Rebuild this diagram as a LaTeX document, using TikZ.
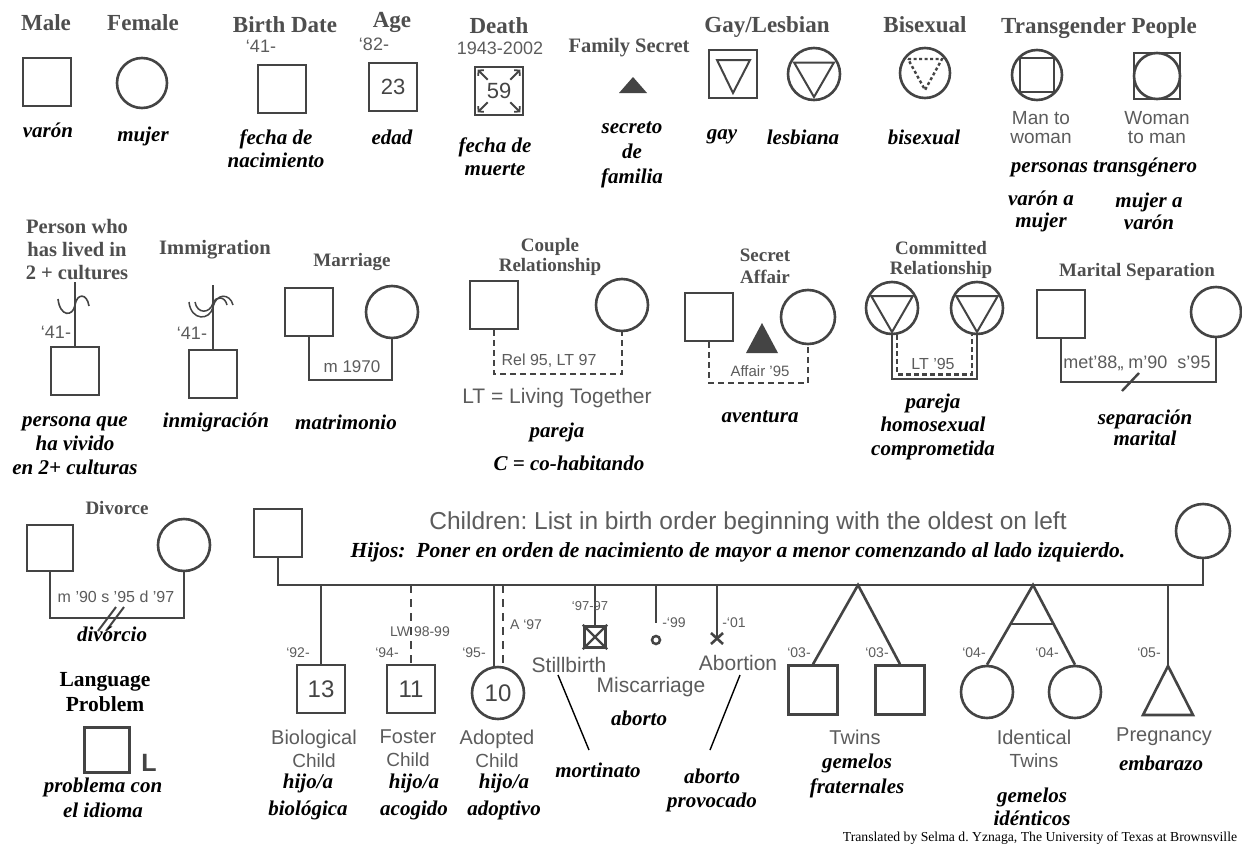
\documentclass[tikz,border=0pt]{standalone}
\usepackage{fontspec}
\setmainfont{Liberation Serif}
\newfontfamily\sansf{Liberation Sans}
\usetikzlibrary{calc,arrows.meta}
\definecolor{shp}{HTML}{444444}
\definecolor{hdrc}{HTML}{4E4E4E}
\definecolor{labc}{HTML}{5C5C5C}
\newcommand{\bignum}{\sansf\fontsize{24}{24}\selectfont}
\frenchspacing
\begin{document}
\begin{tikzpicture}[x=1pt,y=-1pt,
 hdr/.style={font=\fontsize{23}{25}\selectfont\bfseries, text=hdrc, align=center, inner sep=0pt},
 hdrm/.style={font=\fontsize{20.5}{23}\selectfont\bfseries, text=hdrc, align=center, inner sep=0pt},
 hdrs/.style={font=\fontsize{19}{#1}\selectfont\bfseries, text=hdrc, align=center, inner sep=0pt},
 hdrs/.default=20,
 es/.style={font=\fontsize{21}{#1}\selectfont\bfseries\itshape, text=black, align=center, inner sep=0pt},
 es/.default=23,
 lab/.style={font=\sansf\fontsize{19}{#1}\selectfont, text=labc, align=center, inner sep=0pt},
 lab/.default=19,
 sm/.style={font=\sansf\fontsize{#1}{#1}\selectfont, text=labc, inner sep=0pt},
 sm/.default=14,
 sq/.style={draw=shp, line width=2.6pt, minimum size=48pt, inner sep=0pt, text=shp},
 ci/.style={circle, draw=shp, line width=2.6pt, minimum size=52pt, inner sep=0pt, text=shp},
 ln/.style={draw=shp, line width=2.6pt},
 dl/.style={draw=shp, line width=2.6pt, dash pattern=on 6pt off 4pt},
 ptr/.style={draw=black, line width=1.4pt},
 darr/.style={draw=shp, line width=1.8pt, -{Straight Barb[length=3.5pt, width=8pt]}},
]
\fill[white] (0,0) rectangle (1242,846);
\useasboundingbox (0,0) rectangle (1242,846);

% ---------------- Row 1 ----------------
\node[hdr] (hMale) at (46,23) {Male};
\node[sq] (male) at (47,82) {};
\node[es] (eMale) at (48,130) {varón};

\node[hdr] (hFem) at (143,23) {Female};
\node[ci, minimum size=50pt] (fem) at (142,83) {};
\node[es] (eFem) at (143,136) {mujer};

\node[hdr] (hBirth) at (285,25) {Birth Date};
\node[sm=18] (tBirth) at (261,46) {‘41-};
\node[sq] (birth) at (282,89) {};
\node[es] (eBirth) at (276,148.5) {fecha de\\nacimiento};

\node[hdr] (hAge) at (392,22) {Age};
\node[sm=18] (tAge) at (374,44) {‘82-};
\node[sq, minimum size=48pt] (age) at (393,87) {\sansf\fontsize{22}{22}\selectfont 23};
\node[es] (eAge) at (392,137) {edad};

\node[hdr] (hDeath) at (499,26) {Death};
\node[sm=18] (tDeath) at (500,48) {1943-2002};
\node[sq] (death) at (499,91) {\sansf\fontsize{22}{22}\selectfont 59};
\draw[darr] ($(death.north west)+(14,14)$) -- ($(death.north west)+(4,4)$);
\draw[darr] ($(death.north east)+(-14,14)$) -- ($(death.north east)+(-4,4)$);
\draw[darr] ($(death.south west)+(14,-14)$) -- ($(death.south west)+(4,-4)$);
\draw[darr] ($(death.south east)+(-14,-14)$) -- ($(death.south east)+(-4,-4)$);
\node[es] (eDeath) at (495,156.5) {fecha de\\muerte};

\node[hdrm] (hSecret) at (629,48) {Family Secret};
\coordinate (fs) at (633,77);
\fill[shp] (fs) -- ++(14,16) -- ++(-28,0) -- cycle;
\node[es=25] (eSecret) at (632,155) {secreto\\de\\familia};

\node[hdr] (hGay) at (767,27) {Gay/Lesbian};
\node[sq] (gay) at (733,74) {};
\draw[shp, line width=2pt, line join=miter] ($(gay)+(-16,-14)$) -- ($(gay)+(17,-14)$) -- ($(gay)+(0,19)$) -- cycle;
\node[ci] (lesb) at (814,74) {};
\draw[shp, line width=2pt, line join=miter] ($(lesb)+(210:23)$) -- ($(lesb)+(330:23)$) -- ($(lesb)+(90:23)$) -- cycle;
\node[es] (eGay) at (722,137) {gay};
\node[es] (eLesb) at (803,137) {lesbiana};

\node[hdr] (hBi) at (925,25) {Bisexual};
\node[ci, minimum size=50pt] (bi) at (925,73) {};
\draw[shp, line width=2.4pt, dash pattern=on 3pt off 2.5pt] ($(bi)+(-17,-14)$) -- ($(bi)+(17,-14)$) -- ($(bi)+(0,17)$) -- cycle;
\node[es] (eBi) at (924,137) {bisexual};

\node[hdr] (hTrans) at (1099,28) {Transgender People};
\node[ci, minimum size=50pt] (mtw) at (1037,75) {};
\draw[ln] ($(mtw)+(-17,-17)$) rectangle ($(mtw)+(17,17)$);
\node[sq, minimum size=46pt] (wtm) at (1157,76) {};
\draw[ln] (wtm.center) circle[radius=23pt];
\node[lab] (tMtw) at (1041,127.5) {Man to\\woman};
\node[lab] (tWtm) at (1157,127.5) {Woman\\to man};
\node[es] (eTrans) at (1104,167) {personas transgénero};
\node[es=22] (eMtw) at (1041,211) {varón a\\mujer};
\node[es=22] (eWtm) at (1149,211) {mujer a\\varón};

% ---------------- Row 2 ----------------
\node[hdrm] (hCult) at (77,250) {Person who\\has lived in\\2 + cultures};
\node[sq] (cult) at (75,371) {};
\coordinate (cultTop) at (75,282);
\draw[ln] (cultTop) -- (cult.north);
\draw[shp, line width=1.6pt] (58,299) .. controls (60,317) and (73,317) .. (75,305) .. controls (77,293) and (87,293) .. (89,306);
\node[sm=18] (tCult) at (56,332) {‘41-};
\node[es=24] (eCult) at (75,446) {persona que\\ha vivido\\en 2+ culturas};

\node[hdrm] (hImm) at (215,250) {Immigration};
\node[sq] (imm) at (213,374) {};
\coordinate (immTop) at (213,285);
\draw[ln] (immTop) -- (imm.north);
\draw[shp, line width=1.5pt] (189,302) .. controls (191,321) and (210,321) .. (213,307) .. controls (216,293) and (230,293) .. (233,305);
\draw[shp, line width=1.5pt] (195,302) .. controls (197,314) and (210,314) .. (213,303) .. controls (216,296) and (225,296) .. (227,305);
\node[sm=18] (tImm) at (192,333) {‘41-};
\node[es] (eImm) at (216,422) {inmigración};

\node[hdrs] (hMar) at (352,262) {Marriage};
\node[sq] (msq) at (309,312) {};
\node[ci] (mci) at (392,312) {};
\coordinate (mB) at (352,380);
\draw[ln, line join=miter] (msq.south) -- (msq.south |- mB) -| (mci.south);
\node[sm=17] (tMar) at (352,367) {m 1970};
\node[es] (eMar) at (346,422) {matrimonio};

\node[hdrs] (hCoup) at (550,257) {Couple\\Relationship};
\node[sq] (csq) at (494,305) {};
\node[ci] (cci) at (622,305) {};
\coordinate (cB) at (550,374);
\draw[dl] (csq.south) -- (csq.south |- cB) -| (cci.south);
\node[sm=16] (tCoup) at (549,361) {Rel 95, LT 97};
\node[lab] (tLT) at (557,398) {\fontsize{21}{21}\selectfont LT = Living Together};
\node[es] (eCoup) at (557,432) {pareja};
\node[es] (eCoup2) at (569,463) {C = co-habitando};

\node[hdrs=22] (hAff) at (765,266) {Secret\\Affair};
\node[sq] (asq) at (709,317) {};
\node[ci, minimum size=54pt] (aci) at (808,317) {};
\coordinate (at) at (762,323);
\fill[shp] (at) -- ++(16,30) -- ++(-32,0) -- cycle;
\coordinate (aB) at (760,383);
\draw[dl] (asq.south) -- (asq.south |- aB) -| (aci.south);
\node[sm=15] (tAff) at (760,371) {Affair ’95};
\node[es] (eAff) at (760,417) {aventura};

\node[hdrs] (hCom) at (941,260) {Committed\\Relationship};
\node[ci] (k1) at (892,308) {};
\node[ci] (k2) at (977,308) {};
\draw[shp, line width=2pt, line join=miter] ($(k1)+(210:24)$) -- ($(k1)+(330:24)$) -- ($(k1)+(90:24)$) -- cycle;
\draw[shp, line width=2pt, line join=miter] ($(k2)+(210:24)$) -- ($(k2)+(330:24)$) -- ($(k2)+(90:24)$) -- cycle;
\coordinate (kB) at (935,379);
\draw[ln, line join=miter] (k1.south) -- (k1.south |- kB) -| (k2.south);
\draw[shp, line width=2.4pt, dash pattern=on 5pt off 3pt] ($(k1.south)+(5,0)$) -- ($(k1.south)+(5,39)$) -- ($(k2.south)+(-5,39)$) -- ($(k2.south)+(-5,0)$);
\node[sm=16] (tCom) at (933,364) {LT ’95};
\node[es=23.5] (eCom) at (933,426.5) {pareja\\homosexual\\comprometida};

\node[hdrs] (hSep) at (1137,272) {Marital Separation};
\node[sq] (ssq) at (1061,314) {};
\node[ci, minimum size=50pt] (sci) at (1216,312) {};
\coordinate (sB) at (1140,382);
\draw[ln, line join=miter] (ssq.south) -- (ssq.south |- sB) -| (sci.south);
\draw[shp, line width=2.4pt] (1122,391) -- (1139,373);
\node[sm=18] (tSep) at (1137,363) {met’88„ m’90\ \ s’95};
\node[es=21] (eSep) at (1145,427.5) {separación\\marital};

% ---------------- Row 3 left ----------------
\node[hdrs] (hDiv) at (117,508) {Divorce};
\node[sq, minimum size=46pt] (dsq) at (50,548) {};
\node[ci] (dci) at (184,545) {};
\coordinate (dB) at (117,618);
\draw[ln, line join=miter] (dsq.south) -- (dsq.south |- dB) -| (dci.south);
\draw[shp, line width=2pt] (98,631) -- (116,607) (106,631) -- (124,607);
\node[sm=16] (tDiv) at (116,597) {m ’90 s ’95 d ’97};
\node[es] (eDiv) at (112,634) {divórcio};

\node[font=\fontsize{21.5}{25}\selectfont\bfseries, text=black, align=center, inner sep=0pt] (hLang) at (105,692.5) {Language\\Problem};
\node[sq, minimum size=45pt] (lsq) at (107,750) {};
\node[font=\sansf\bfseries\fontsize{25}{25}\selectfont, text=shp, inner sep=0pt] (lL) at (149,763) {L};
\node[es=25] (eLang) at (103,797.5) {problema con\\el idioma};

% ---------------- Children ----------------
\node[sq] (cf) at (278,533) {};
\node[ci, minimum size=54pt] (cm) at (1203,531) {};
\coordinate (barL) at (278,585);
\coordinate (barR) at (1203,585);
\draw[ln, line join=miter] (cf.south) -- (barL) -- (barR) -- (cm.south);
\node[sm=24.5] (tChild) at (748,523) {Children: List in birth order beginning with the oldest on left};
\node[font=\fontsize{21.5}{22}\selectfont\bfseries\itshape, inner sep=0pt] (eChild) at (738,552) {Hijos:\ \ Poner en orden de nacimiento de mayor a menor comenzando al lado izquierdo.};

\node[sq] (bio) at (321,689) {\bignum 13};
\draw[ln] (bio.north |- barL) -- (bio.north);
\node[sm] (tBio) at (298,653) {‘92-};
\node[lab=23] (lBio) at (314,748.5) {\fontsize{20}{23}\selectfont Biological\\Child};
\node[es=27] (eBio) at (308,796.5) {hijo/a\\biológica};

\node[sq] (fos) at (411,689) {\bignum 11};
\draw[dl, dash pattern=on 8pt off 6pt] (fos.north |- barL) -- (fos.north);
\node[sm] (tFos) at (387,653) {‘94-};
\node[sm] (tFos2) at (420,632) {LW 98-99};
\node[lab=23] (lFos) at (408,748.5) {\fontsize{20}{23}\selectfont Foster\\Child};
\node[es=27] (eFos) at (414,796.5) {hijo/a\\acogido};

\node[ci] (adp) at (498,693) {\bignum 10};
\coordinate (adpL) at (494,585);
\coordinate (adpR) at (503,585);
\draw[ln] (adpL) -- (adpL |- adp.north);
\draw[dl, dash pattern=on 8pt off 6pt] (adpR) -- ($(adpR |- adp.north)+(0,-3)$);
\node[sm] (tAdp) at (474,653) {‘95-};
\node[sm] (tAdp2) at (526,625) {A ‘97};
\node[lab=23] (lAdp) at (497,748.5) {\fontsize{20}{23}\selectfont Adopted\\Child};
\node[es=27] (eAdp) at (504,796.5) {hijo/a\\adoptivo};

\node[draw=shp, line width=3.4pt, minimum size=21pt, inner sep=0pt] (sb) at (595,637) {};
\draw[shp, line width=2.4pt] (sb.north west) -- (sb.south east) (sb.north east) -- (sb.south west);
\draw[ln] (sb.north |- barL) -- (sb.north);
\node[sm=13] (tSb) at (590,606) {‘97-97};
\node[lab] (lSb) at (569,665) {\fontsize{21}{21}\selectfont Stillbirth};

\node[circle, draw=shp, line width=2.5pt, minimum size=8pt, inner sep=0pt] (mc) at (656,640) {};
\draw[ln] (mc.north |- barL) -- ($(mc.north)+(0,-12)$);
\node[sm] (tMc) at (674,623) {-‘99};
\node[lab] (lMc) at (651,687) {\fontsize{21}{21}\selectfont Miscarriage};
\node[es] (eMc) at (639,718) {aborto};

\coordinate (ab) at (717,638);
\draw[ln] (ab |- barL) -- (ab);
\draw[shp, line width=2.6pt] ($(ab)+(-6,-5)$) -- ($(ab)+(6,6)$) ($(ab)+(6,-5)$) -- ($(ab)+(-6,6)$);
\node[sm] (tAb) at (734,623) {-‘01};
\node[lab] (lAb) at (738,663) {\fontsize{21}{21}\selectfont Abortion};

\coordinate (p1a) at (558,675);
\coordinate (p1b) at (589,750);
\draw[ptr] (p1a) -- (p1b);
\node[es] (eSb) at (598,770) {mortinato};
\coordinate (p2a) at (740,675);
\coordinate (p2b) at (710,750);
\draw[ptr] (p2a) -- (p2b);
\node[es=24] (eAb) at (712,790) {aborto\\provocado};

\coordinate (tw) at (858,585);
\node[sq, minimum size=49pt] (tw1) at (813,690) {};
\node[sq, minimum size=49pt] (tw2) at (900,690) {};
\draw[ln, line join=miter] (tw1.north) -- (tw) -- (tw2.north);
\node[sm] (tTw1) at (799,653) {‘03-};
\node[sm] (tTw2) at (877,653) {‘03-};
\node[lab] (lTw) at (855,737) {\fontsize{20}{20}\selectfont Twins};
\node[es=25] (eTw) at (857,775.5) {gemelos\\fraternales};

\coordinate (it) at (1033,585);
\node[ci] (id1) at (987,692) {};
\node[ci] (id2) at (1075,692) {};
\draw[ln, line join=miter] (id1.north) -- (it) -- (id2.north);
\draw[ln] ($(it)!0.49!(id1.north)$) -- ($(it)!0.49!(id2.north)$);
\node[sm] (tId1) at (974,653) {‘04-};
\node[sm] (tId2) at (1047,653) {‘04-};
\node[lab=23] (lId) at (1034,748.5) {\fontsize{20}{23}\selectfont Identical\\Twins};
\node[es] (eId) at (1032,806.5) {gemelos\\idénticos};

\coordinate (pg) at (1168,666);
\draw[ln] (pg |- barR) -- (pg);
\draw[ln, line join=miter] (pg) -- ++(25,49) -- ++(-50,0) -- cycle;
\node[sm] (tPg) at (1149,653) {‘05-};
\node[lab] (lPg) at (1164,737) {\fontsize{20}{20}\selectfont Pregnancy};
\node[es] (ePg) at (1161,763) {embarazo};

\node[font=\fontsize{13.7}{14}\selectfont, inner sep=0pt] (credit) at (1040,838) {Translated by Selma d. Yznaga, The University of Texas at Brownsville};
\end{tikzpicture}
\end{document}
